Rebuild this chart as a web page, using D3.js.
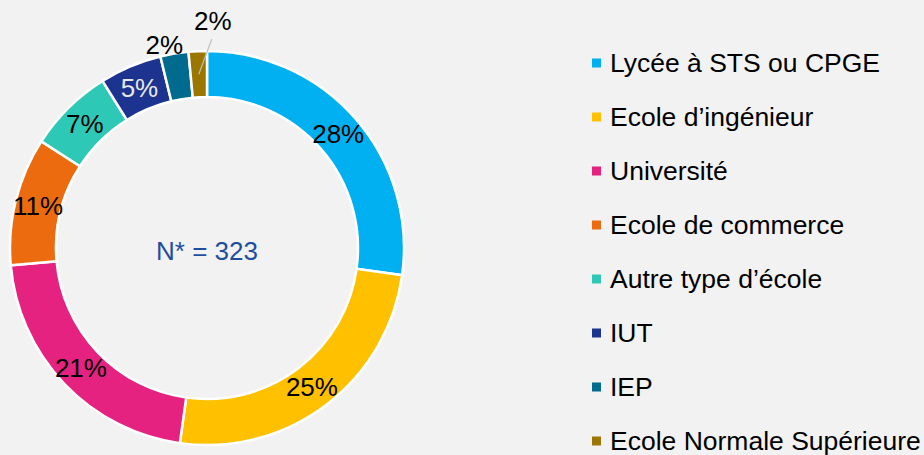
<!DOCTYPE html>
<html>
<head>
<meta charset="utf-8">
<script src="https://cdn.jsdelivr.net/npm/d3@7"></script>
<style>
  html, body { margin: 0; padding: 0; background: #f2f2f2; }
  svg { display: block; font-family: "Liberation Sans", Arial, sans-serif; }
</style>
</head>
<body>
<svg id="chart"></svg>
<script>
// categories, shares and the printed labels
const categories = ["Lycée à STS ou CPGE", "Ecole d’ingénieur", "Université", "Ecole de commerce",
                    "Autre type d’école", "IUT", "IEP", "Ecole Normale Supérieure"];
const shares = [27.2, 25.0, 21.4, 10.5, 7.0, 5.1, 2.3, 1.5];
const pctLabels = ["28%", "25%", "21%", "11%", "7%", "5%", "2%", "2%"];
const colors = ["#00b0f0", "#ffc000", "#e5227f", "#ec6b0e", "#2ec9b6", "#1c338f", "#006b8e", "#9b7700"];
const totalText = "N* = 323";

const width = 924, height = 455;
const cx = 207, cy = 248;
const outerR = 197, innerR = 151;

const svg = d3.select("#chart").attr("width", width).attr("height", height);

const data = categories.map((c, i) => ({ name: c, value: shares[i], label: pctLabels[i], color: colors[i] }));

const pie = d3.pie().value(d => d.value).sort(null);
const arc = d3.arc().innerRadius(innerR).outerRadius(outerR);
const labelArc = d3.arc().innerRadius((innerR + outerR) / 2).outerRadius((innerR + outerR) / 2);

const arcs = pie(data);
const g = svg.append("g").attr("transform", `translate(${cx},${cy})`);

g.selectAll("path")
  .data(arcs)
  .enter()
  .append("path")
  .attr("d", arc)
  .attr("fill", d => d.data.color)
  .attr("stroke", "#ffffff")
  .attr("stroke-width", 2.5);

// labels inside the ring for the big slices
g.selectAll("text.inside")
  .data(arcs.filter(d => d.data.value >= 3))
  .enter()
  .append("text")
  .attr("class", "inside")
  .attr("x", d => labelArc.centroid(d)[0])
  .attr("y", d => labelArc.centroid(d)[1])
  .attr("dy", "0.35em")
  .attr("text-anchor", "middle")
  .attr("font-size", 26)
  .attr("fill", d => d.data.name === "IUT" ? "#e8e8e8" : "#000")
  .text(d => d.data.label);

// small slices: labels outside
const small = arcs.filter(d => d.data.value < 3);
const iep = small[0], ens = small[1];

const midA = d => (d.startAngle + d.endAngle) / 2;
const pt = (a, r) => [r * Math.sin(a), -r * Math.cos(a)];

let p = pt(midA(iep), outerR + 8);
g.append("text")
  .attr("x", p[0] + 10)
  .attr("y", p[1] + 8)
  .attr("text-anchor", "end")
  .attr("font-size", 26)
  .attr("fill", "#000")
  .text(iep.data.label);

const c0 = labelArc.centroid(ens);
const c1 = [c0[0] + 13, -outerR - 12];
g.append("line")
  .attr("x1", c0[0]).attr("y1", c0[1])
  .attr("x2", c1[0]).attr("y2", c1[1])
  .attr("stroke", "#bfbfbf")
  .attr("stroke-width", 1.2);
g.append("text")
  .attr("x", c1[0] + 1)
  .attr("y", c1[1] - 9)
  .attr("text-anchor", "middle")
  .attr("font-size", 26)
  .attr("fill", "#000")
  .text(ens.data.label);

g.append("text")
  .attr("x", 0)
  .attr("y", 3)
  .attr("dy", "0.35em")
  .attr("text-anchor", "middle")
  .attr("font-size", 26)
  .attr("fill", "#1f4e9f")
  .text(totalText);

// legend
const legend = svg.append("g").attr("transform", "translate(592,63)");
const rowH = 54;
const rows = legend.selectAll("g")
  .data(data)
  .enter()
  .append("g")
  .attr("transform", (d, i) => `translate(0,${i * rowH})`);

rows.append("rect")
  .attr("x", 0).attr("y", -4.5)
  .attr("width", 9).attr("height", 9)
  .attr("fill", d => d.color);

rows.append("text")
  .attr("x", 18)
  .attr("y", 0)
  .attr("dy", "0.35em")
  .attr("font-size", 26.5)
  .attr("fill", "#000")
  .text(d => d.name);
</script>
</body>
</html>
